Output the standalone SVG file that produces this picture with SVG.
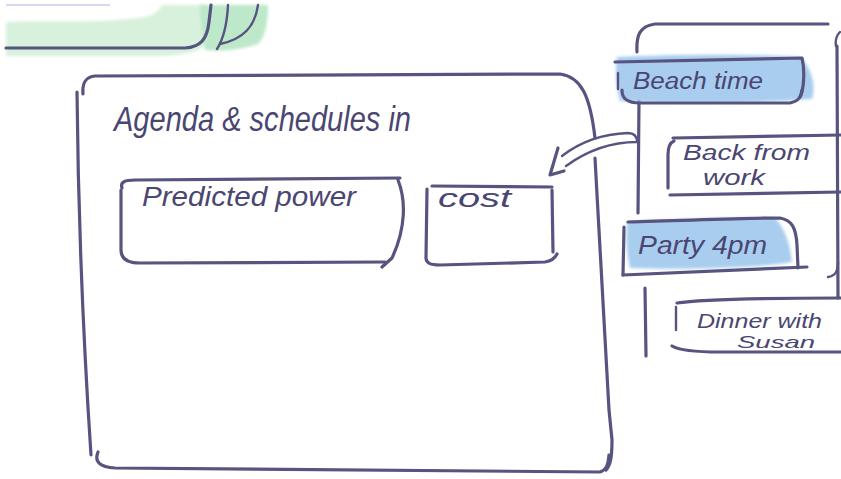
<svg xmlns="http://www.w3.org/2000/svg" width="841" height="479" viewBox="0 0 841 479">
  <defs>
    <filter id="soft" x="-10%" y="-20%" width="120%" height="140%">
      <feGaussianBlur stdDeviation="1.6"/>
    </filter>
    <style>
      .ink { fill: none; stroke: #57547f; stroke-width: 3.2; stroke-linecap: round; stroke-linejoin: round; }
      .thin { stroke-width: 2.4; }
      .hand { font-family: "Liberation Sans", "DejaVu Sans", sans-serif; font-style: italic; fill: #4a4672; }
      .hl { fill: #a9cdee; filter: url(#soft); }
    </style>
  </defs>
  <rect width="841" height="479" fill="#ffffff"/>

  <!-- green brush strokes and edge of a card, top left -->
  <g id="top-card">
    <path d="M6,22 C50,20 110,24 150,16 C158,12 160,8 162,5 L206,5 L210,38 C206,50 190,55 160,56 L6,56 Z" fill="#d8f1dd" filter="url(#soft)"/>
    <path d="M200,5 L268,5 C268,20 266,36 258,44 C240,50 222,52 205,50 C202,35 200,20 200,5 Z" fill="#bde8c9" filter="url(#soft)"/>
    <path d="M6,5 L110,5" stroke="#c9cde8" stroke-width="1.5" fill="none"/>
    <path class="ink" d="M6,48 L185,48 C200,47 207,40 209,22 L211,5"/>
    <path class="ink thin" d="M228,5 C227,25 224,38 217,49"/>
    <path class="ink thin" d="M258,5 C255,26 244,39 220,44"/>
  </g>

  <!-- main agenda panel -->
  <g id="agenda-panel">
    <path class="ink" d="M83,94 C82,82 86,77 95,76 L560,74 C581,77 590,95 595,138"/>
    <path class="ink" d="M77,92 C78,200 82,320 91,455"/>
    <path class="ink" d="M98,452 C94,462 100,467 115,468 L600,472 C606,470 608,466 609,455"/>
    <path class="ink" d="M595,158 C600,250 606,350 609,410 L612,440 C612,455 611,465 606,470"/>
    <text class="hand" x="114" y="131" font-size="35" textLength="297" lengthAdjust="spacingAndGlyphs">Agenda &amp; schedules in</text>
  </g>

  <g id="predicted-power">
    <path class="ink" d="M122,188 C120,182 125,180 135,180 L400,178"/>
    <path class="ink" d="M121,190 L121,250 C121,259 128,263 140,263 L385,262"/>
    <path class="ink" d="M398,180 C406,200 406,228 392,258 L382,267"/>
    <text class="hand" x="142" y="206" font-size="28" textLength="214" lengthAdjust="spacingAndGlyphs">Predicted power</text>
  </g>

  <g id="cost">
    <path class="ink" d="M432,186 L552,187"/>
    <path class="ink" d="M427,189 L426,258 C426,263 430,265 440,265 L545,262 C552,261 555,258 557,254"/>
    <path class="ink" d="M552,190 L553,252"/>
    <text class="hand" x="438" y="207" font-size="25" textLength="73" lengthAdjust="spacingAndGlyphs">cost</text>
  </g>

  <!-- phone with the day's events -->
  <g id="phone">
    <path class="ink" d="M637,52 C636,35 640,26 655,24 L828,24"/>
    <path class="ink thin" d="M840,32 C836,36 835,40 836,46"/>
    <path class="ink" d="M837,46 L838,298"/>
    <path class="ink thin" d="M838,262 C838,272 835,276 828,277"/>
    <path class="ink" d="M639,100 L638,213"/>
    <path class="ink" d="M645,288 L646,356"/>
  </g>

  <g id="beach-time">
    <path class="hl" d="M617,57 C680,54 760,54 800,57 C812,68 816,86 812,99 C760,103 680,104 620,101 C616,88 615,70 617,57 Z"/>
    <path class="ink" d="M615,62 L802,58 C805,70 804,90 800,97"/>
    <path class="ink" d="M622,90 C622,98 626,103 640,103 L790,103 C798,101 801,98 802,90"/>
    <path class="ink thin" d="M618,73 L618,89"/>
    <text class="hand" x="633" y="89" font-size="23" textLength="130" lengthAdjust="spacingAndGlyphs">Beach time</text>
  </g>

  <g id="back-from-work">
    <path class="ink" d="M673,138 L841,135"/>
    <path class="ink" d="M674,141 C669,143 668,148 668,155 L668,188"/>
    <path class="ink" d="M670,195 L841,192"/>
    <text class="hand" x="683" y="160" font-size="22" textLength="127" lengthAdjust="spacingAndGlyphs">Back from</text>
    <text class="hand" x="703" y="185" font-size="22" textLength="62" lengthAdjust="spacingAndGlyphs">work</text>
  </g>

  <g id="party">
    <path class="hl" d="M627,222 C680,219 740,217 775,218 C786,230 790,245 792,262 C760,268 680,270 630,268 C626,250 626,235 627,222 Z"/>
    <path class="ink" d="M628,222 C700,220 750,218 780,218 C792,220 796,228 797,245 L798,268"/>
    <path class="ink" d="M624,227 L623,275"/>
    <path class="ink" d="M623,275 L807,267"/>
    <text class="hand" x="638" y="254" font-size="25" textLength="129" lengthAdjust="spacingAndGlyphs">Party 4pm</text>
  </g>

  <g id="dinner">
    <path class="ink" d="M677,303 C700,299 780,298 841,298"/>
    <path class="ink thin" d="M676,307 L676,330"/>
    <path class="ink" d="M672,346 C680,351 700,352 720,352 L841,352"/>
    <text class="hand" x="697" y="328" font-size="20" textLength="125" lengthAdjust="spacingAndGlyphs">Dinner with</text>
    <text class="hand" x="737" y="348" font-size="17" textLength="78" lengthAdjust="spacingAndGlyphs">Susan</text>
  </g>

  <!-- connector: outlined arrow from the phone into the agenda panel -->
  <g id="connectors">
    <path class="ink thin" d="M562,156 C580,142 600,134 628,133 C634,133 637,136 637,142 C610,142 588,150 566,166"/>
    <path class="ink" d="M558,148 L550,175 L564,171"/>
  </g>
</svg>
